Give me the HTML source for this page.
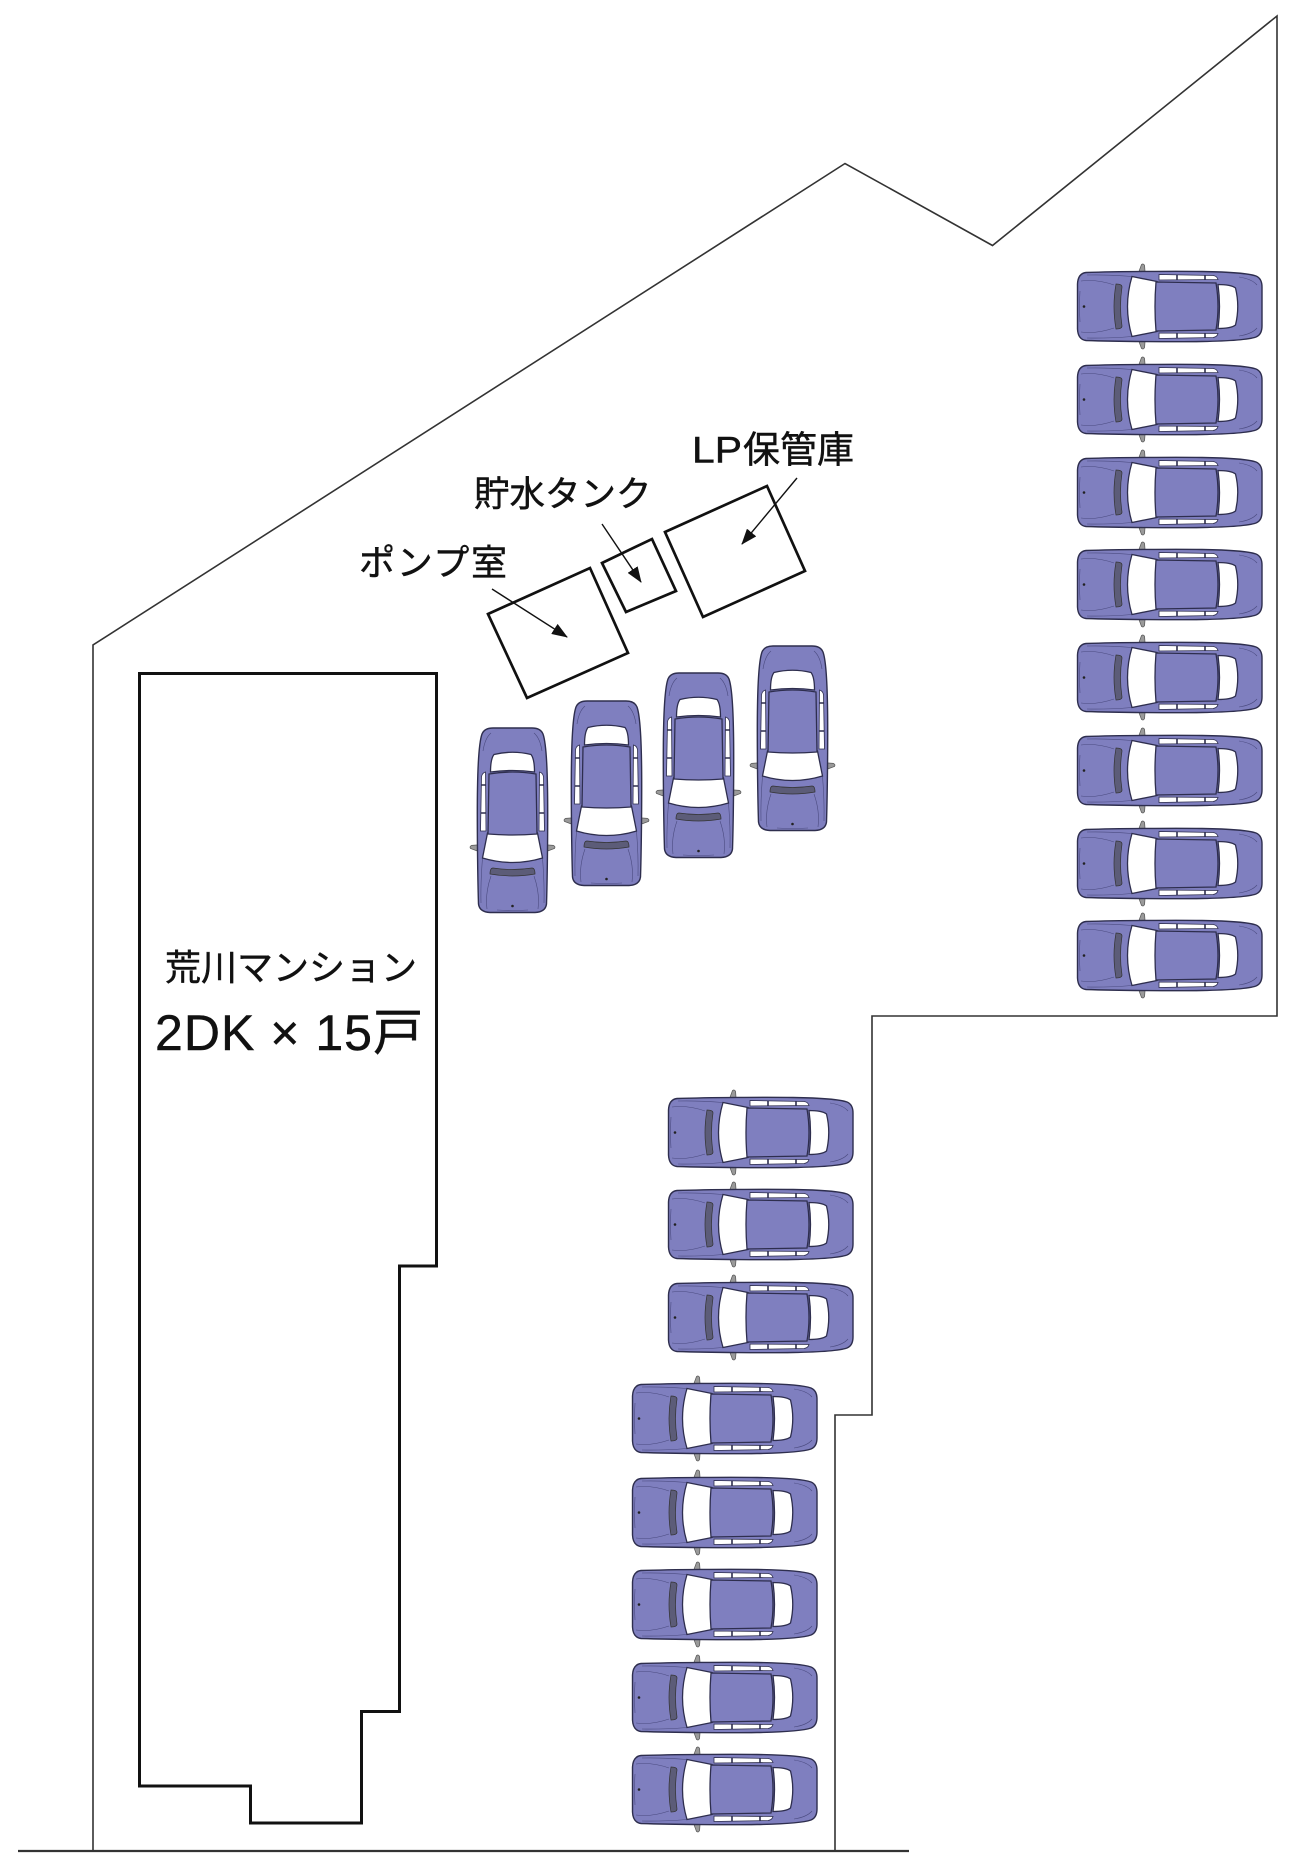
<!DOCTYPE html>
<html>
<head>
<meta charset="utf-8">
<style>
html,body{margin:0;padding:0;background:#ffffff;}
svg{display:block;}
text{font-family:"Liberation Sans","Noto Sans CJK JP",sans-serif;fill:#111;stroke:#111;stroke-width:0.45;}
</style>
</head>
<body>
<svg width="1300" height="1861" viewBox="0 0 1300 1861" xmlns="http://www.w3.org/2000/svg">
<defs>
  <marker id="ah" markerWidth="16" markerHeight="12" refX="15" refY="6" orient="auto" markerUnits="userSpaceOnUse">
    <path d="M0 0 L16 6 L0 12 Z" fill="#111"/>
  </marker>
  <g id="car">
    <path d="M61 3 L64.5 -6.5 Q66.5 -7.8 67.6 -5.5 L68.2 3 Z" fill="#9a9a9a" stroke="#555" stroke-width="0.7"/>
    <path d="M61 68 L64.5 77.5 Q66.5 78.8 67.6 76.5 L68.2 68 Z" fill="#9a9a9a" stroke="#555" stroke-width="0.7"/>
    <path d="M9 1.5 C40 0.5 100 0 125 0.5 C155 1 172 2.5 179 5 Q185 7.5 185 16 L185 55 Q185 63.5 179 66 C172 68.5 155 70 125 70.5 C100 71 40 70.5 9 69.5 Q1 68.5 0.5 58 L0.5 13 Q1 2.5 9 1.5 Z" fill="#7f7fbf" stroke="#2e2e4e" stroke-width="1.4"/>
    <path d="M4 10 Q20 8 37 14" fill="none" stroke="#4b4b80" stroke-width="0.6"/>
    <path d="M4 61 Q20 63 37 57" fill="none" stroke="#4b4b80" stroke-width="0.6"/>
    <path d="M10 4 Q30 3.5 55 5.5" fill="none" stroke="#4b4b80" stroke-width="0.6"/>
    <path d="M10 67 Q30 67.5 55 65.5" fill="none" stroke="#4b4b80" stroke-width="0.6"/>
    <path d="M3 20 Q2 35.5 3 51" fill="none" stroke="#4b4b80" stroke-width="0.6"/>
    <path d="M162 6 Q175 8 180 14" fill="none" stroke="#4b4b80" stroke-width="0.6"/>
    <path d="M162 65 Q175 63 180 57" fill="none" stroke="#4b4b80" stroke-width="0.6"/>
    <path d="M39 13 Q45 13 45 16 Q42 35.5 45 55 Q45 58 39 58 Q35 35.5 39 13 Z" fill="#5c5c78" stroke="#333" stroke-width="0.7"/>
    <path d="M55 5.5 L80 10.5 Q77 35.5 80 60.5 L55 65.5 Q46 35.5 55 5.5 Z" fill="#ffffff" stroke="#2e2e4e" stroke-width="1.3"/>
    <path d="M82 3.5 L136 4.5 Q140 5 141 8.5 L82 9 Z" fill="#ffffff" stroke="#2e2e4e" stroke-width="0.8"/>
    <path d="M82 67.5 L136 66.5 Q140 66 141 62.5 L82 62 Z" fill="#ffffff" stroke="#2e2e4e" stroke-width="0.8"/>
    <path d="M100 3.5 L100 9 M128 4 L128 9 M100 62 L100 67.5 M128 62 L128 67" stroke="#2e2e4e" stroke-width="1.6"/>
    <path d="M79 11 L139 12 Q143 35.5 139 59 L79 60 Q77 35.5 79 11 Z" fill="#7f7fbf" stroke="#2e2e4e" stroke-width="1.3"/>
    <path d="M141 13.5 Q154 13.5 158.5 17 Q163 35.5 158.5 54 Q154 57.5 141 57.5 Q144 35.5 141 13.5 Z" fill="#ffffff" stroke="#2e2e4e" stroke-width="1.3"/>
    <circle cx="7" cy="35.5" r="1.3" fill="#222"/>
  </g>
</defs>

<path d="M93 1851 V645 L845 163.5 L992.5 245.5 L1277 16 V1016 H872 V1415 H835 V1851" fill="none" stroke="#333" stroke-width="1.6"/>
<path d="M18 1851 H909" fill="none" stroke="#333" stroke-width="2.2"/>

<path d="M139.5 673.5 H436.5 V1266 H399.5 V1711.5 H361.5 V1823 H250.5 V1786 H139.5 Z" fill="none" stroke="#111" stroke-width="3"/>

<text x="165" y="980" font-size="36">荒川マンション</text>
<text x="155" y="1050" font-size="50" textLength="268">2DK × 15戸</text>

<polygon points="488,614 590,568 628,653 527,698" fill="none" stroke="#111" stroke-width="2.7"/>
<polygon points="602,563 652,539 676,591 626,612" fill="none" stroke="#111" stroke-width="2.7"/>
<polygon points="665,532 767,486 805,571 703,617" fill="none" stroke="#111" stroke-width="2.7"/>

<line x1="492" y1="589" x2="567" y2="637" stroke="#111" stroke-width="1.4" marker-end="url(#ah)"/>
<line x1="602" y1="524" x2="641" y2="582" stroke="#111" stroke-width="1.4" marker-end="url(#ah)"/>
<line x1="797" y1="478" x2="742" y2="544" stroke="#111" stroke-width="1.4" marker-end="url(#ah)"/>

<text x="359" y="575" font-size="36" textLength="148">ポンプ室</text>
<text x="474" y="506" font-size="35.5">貯水タンク</text>
<text y="462.5" font-size="37"><tspan x="692" textLength="50" lengthAdjust="spacingAndGlyphs">LP</tspan><tspan x="743">保管庫</tspan></text>

<use href="#car" transform="translate(1077,271)"/>
<use href="#car" transform="translate(1077,364)"/>
<use href="#car" transform="translate(1077,457)"/>
<use href="#car" transform="translate(1077,549)"/>
<use href="#car" transform="translate(1077,642)"/>
<use href="#car" transform="translate(1077,735)"/>
<use href="#car" transform="translate(1077,828)"/>
<use href="#car" transform="translate(1077,920)"/>

<use href="#car" transform="translate(477,913) rotate(-90)"/>
<use href="#car" transform="translate(571,886) rotate(-90)"/>
<use href="#car" transform="translate(663,858) rotate(-90)"/>
<use href="#car" transform="translate(757,831) rotate(-90)"/>

<use href="#car" transform="translate(668,1097)"/>
<use href="#car" transform="translate(668,1189)"/>
<use href="#car" transform="translate(668,1282)"/>

<use href="#car" transform="translate(632,1383)"/>
<use href="#car" transform="translate(632,1477)"/>
<use href="#car" transform="translate(632,1569)"/>
<use href="#car" transform="translate(632,1662)"/>
<use href="#car" transform="translate(632,1754)"/>
</svg>
</body>
</html>
